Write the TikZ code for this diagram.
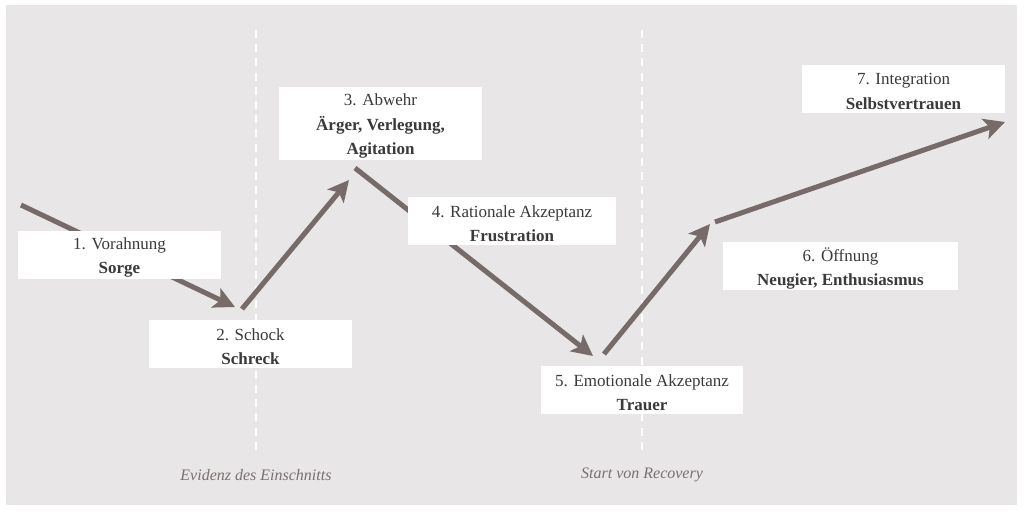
\documentclass[tikz,border=0pt]{standalone}
\usepackage{fontspec}
\setmainfont{Liberation Serif}
\usetikzlibrary{arrows.meta}
\definecolor{bggray}{HTML}{E8E6E6}
\definecolor{arrowc}{HTML}{766B69}
\definecolor{txtc}{HTML}{3A3A3A}
\definecolor{labc}{HTML}{7A7070}
\begin{document}
\begin{tikzpicture}[x=1pt,y=-1pt,
  stagebox/.style={fill=white,draw=none,inner sep=0pt},
  stagetext/.style={align=center,text=txtc,inner sep=0pt,
    font=\fontsize{17}{24.5}\selectfont},
  flowarrow/.style={draw=arrowc,line width=5pt,-{Stealth[length=21pt,width=21pt,inset=5pt]}},
  divider/.style={draw=white,line width=1.6pt,dash pattern=on 8pt off 6.2pt},
  bottomlabel/.style={text=labc,font=\fontsize{16}{19}\itshape\selectfont}]
\useasboundingbox (0,0) rectangle (1024,511);
\fill[white] (0,0) rectangle (1024,511);
\fill[bggray] (6,5) rectangle (1017,505);
% dividers
\coordinate (d1t) at (256,30);
\coordinate (d1b) at (256,455);
\coordinate (d2t) at (642,30);
\coordinate (d2b) at (642,455);
\draw[divider] (d1t) -- (d1b);
\draw[divider] (d2t) -- (d2b);
% arrow endpoints
\coordinate (a1s) at (21,205);
\coordinate (a1e) at (235,307);
\coordinate (a2s) at (242,309);
\coordinate (a2e) at (349,180);
\coordinate (a3s) at (355,168);
\coordinate (a3e) at (593,356);
\coordinate (a4s) at (604,354);
\coordinate (a4e) at (710,224);
\coordinate (a5s) at (715,222);
\coordinate (a5e) at (1005,122);
\draw[flowarrow] (a1s) -- (a1e);
\draw[flowarrow] (a2s) -- (a2e);
\draw[flowarrow] (a3s) -- (a3e);
\draw[flowarrow] (a4s) -- (a4e);
\draw[flowarrow] (a5s) -- (a5e);
% boxes
\node[stagebox,minimum width=203pt,minimum height=48pt] (b1) at (119.5,255) {};
\node[stagebox,minimum width=203pt,minimum height=48pt] (b2) at (250.5,344) {};
\node[stagebox,minimum width=203pt,minimum height=73pt] (b3) at (380.5,123.5) {};
\node[stagebox,minimum width=208pt,minimum height=48pt] (b4) at (512,221) {};
\node[stagebox,minimum width=202pt,minimum height=48pt] (b5) at (642,390) {};
\node[stagebox,minimum width=235pt,minimum height=48pt] (b6) at (840.5,266) {};
\node[stagebox,minimum width=203pt,minimum height=48pt] (b7) at (903.5,89) {};
% box texts
\node[stagetext] (t1) at ([yshift=-2.5pt]b1.center) {1. Vorahnung\\\textbf{Sorge}};
\node[stagetext] (t2) at ([yshift=-2.5pt]b2.center) {2. Schock\\\textbf{Schreck}};
\node[stagetext] (t3) at ([yshift=-2.5pt]b3.center) {3. Abwehr\\\textbf{Ärger, Verlegung,}\\\textbf{Agitation}};
\node[stagetext] (t4) at ([yshift=-2.5pt]b4.center) {4. Rationale Akzeptanz\\\textbf{Frustration}};
\node[stagetext] (t5) at ([yshift=-2.5pt]b5.center) {5. Emotionale Akzeptanz\\\textbf{Trauer}};
\node[stagetext] (t6) at ([yshift=-2.5pt]b6.center) {6. Öffnung\\\textbf{Neugier, Enthusiasmus}};
\node[stagetext] (t7) at ([yshift=-2.5pt]b7.center) {7. Integration\\\textbf{Selbstvertrauen}};
% bottom labels
\node[bottomlabel] (l1) at (256,475) {Evidenz des Einschnitts};
\node[bottomlabel] (l2) at (642,475) {Start von Recovery};
\end{tikzpicture}
\end{document}
